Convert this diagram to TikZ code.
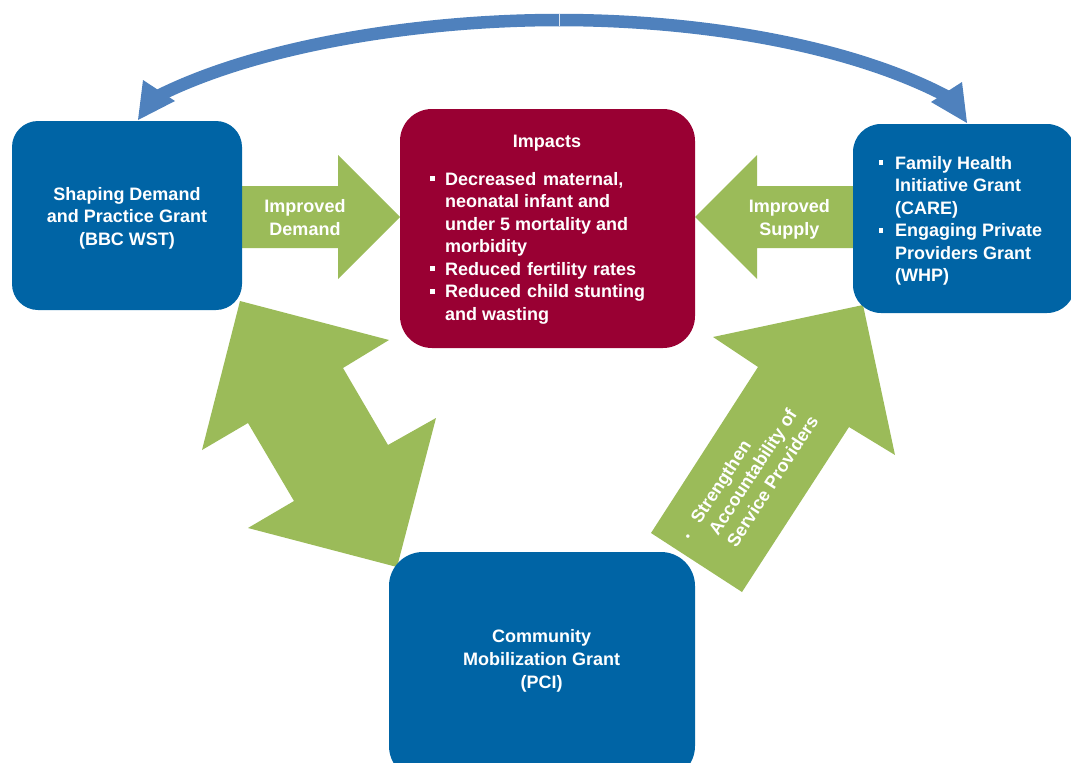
\documentclass[tikz,border=0pt]{standalone}
\usepackage{fontspec}
\setmainfont{Liberation Sans}
\usetikzlibrary{calc}
\definecolor{boxblue}{HTML}{0064A5}
\definecolor{impred}{HTML}{990033}
\definecolor{arrgreen}{HTML}{9BBB59}
\definecolor{arcblue}{HTML}{4F81BD}
\newcommand{\sqbul}{\raisebox{4pt}{\rule{4.6pt}{4.6pt}}}
\tikzset{
  grantbox/.style={fill=boxblue, draw=none, inner sep=0pt},
  impactbox/.style={fill=impred, draw=none, inner sep=0pt},
  blockarrow/.style={fill=arrgreen, draw=none},
  arcshaft/.style={draw=arcblue, line width=12.5pt},
  archead/.style={fill=arcblue, draw=none},
  wtext/.style={text=white, inner sep=0pt, anchor=base},
  lsk/.style={font=\bfseries\fontsize{18}{#1}\selectfont},
}
\begin{document}
\begin{tikzpicture}[x=1pt,y=-1pt]
\useasboundingbox (0,0) rectangle (1071,763);

% ---- block arrows (behind the boxes)
\fill[blockarrow] (230,186) -- (338,186) -- (338,155) -- (400,217) -- (338,279) -- (338,248) -- (230,248) -- cycle;
\fill[blockarrow] (865,186) -- (757,186) -- (757,155) -- (695,217) -- (757,279) -- (757,248) -- (865,248) -- cycle;
\fill[blockarrow] (240,301) -- (389,340) -- (343,368) -- (388,445) -- (436,418) -- (397,567) -- (248,528) -- (294,501) -- (248,423) -- (202,450) -- cycle;
\fill[blockarrow] (863,305) -- (895,455) -- (849,427) -- (742,592) -- (651,533) -- (758,367) -- (713,337) -- cycle;

% ---- boxes
\node[grantbox, rounded corners=26pt, minimum width=230pt, minimum height=189pt] (sdp) at (127,215.5) {};
\node[impactbox, rounded corners=32pt, minimum width=295pt, minimum height=239pt] (imp) at (547.5,228.5) {};
\node[grantbox, rounded corners=28pt, minimum width=222pt, minimum height=189pt] (fhi) at (964,218.5) {};
\node[grantbox, rounded corners=34pt, minimum width=306pt, minimum height=228pt] (cmg) at (542,666) {};

% ---- top double arc (two arrows meeting at the top)
\coordinate (arcL) at (158,96);
\coordinate (arcT) at (559,20);
\coordinate (arcR) at (948,97);
\draw[arcshaft] (arcL) .. controls (260,45) and (420,20) .. (arcT);
\draw[arcshaft] (arcT) .. controls (700,20) and (850,45) .. (arcR);
\fill[archead] (138,120) -- (143,80) -- (175,101) -- cycle;
\fill[archead] (967,123) -- (962,82) -- (931,102) -- cycle;
\draw[white!80!arcblue, line width=0.7pt] ($(arcT)+(0,-6.3)$) -- ($(arcT)+(0,6.3)$);

% ---- texts
\node[wtext, lsk=22.2] (sdpT) at (127,200.7)
  {\begin{tabular}[t]{@{}c@{}}Shaping Demand\\and Practice Grant\\(BBC WST)\end{tabular}};
\node[wtext, lsk=22.6] (demT) at (305,212.7)
  {\begin{tabular}[t]{@{}c@{}}Improved\\Demand\end{tabular}};
\node[wtext, lsk=22.6] (supT) at (789.3,212.7)
  {\begin{tabular}[t]{@{}c@{}}Improved\\Supply\end{tabular}};
\node[wtext, lsk=22.5] (impT) at (547,147) {Impacts};
\node[wtext, lsk=22.5, anchor=base west] (impL) at (430,185)
  {\begin{tabular}[t]{@{}l@{\hspace{10.4pt}}l@{}}
   \sqbul & Decreased\hspace{2pt} maternal,\\
          & neonatal infant and\\
          & under 5 mortality and\\
          & morbidity\\
   \sqbul & Reduced\hspace{1pt} fertility\hspace{1pt} rates\\
   \sqbul & Reduced\hspace{1pt} child stunting\\
          & and wasting
   \end{tabular}};
\node[wtext, lsk=22.5, anchor=base west] (fhiL) at (878.3,169)
  {\begin{tabular}[t]{@{}l@{\hspace{12pt}}l@{}}
   \sqbul & Family Health\\
          & Initiative Grant\\
          & (CARE)\\
   \sqbul & Engaging Private\\
          & Providers Grant\\
          & (WHP)
   \end{tabular}};
\node[wtext, lsk=22.8] (cmgT) at (541.7,642.7)
  {\begin{tabular}[t]{@{}c@{}}Community\\Mobilization Grant\\(PCI)\end{tabular}};
\node[wtext, lsk=21.5, anchor=base west, rotate=57] (accT) at (690,540.6)
  {\begin{tabular}[t]{@{}l@{}l@{}}
   \makebox[18.5pt][l]{\fontsize{12}{12}\selectfont\textbullet} & Strengthen\\
   & Accountability of\\
   & Service Providers
   \end{tabular}};
\end{tikzpicture}
\end{document}
